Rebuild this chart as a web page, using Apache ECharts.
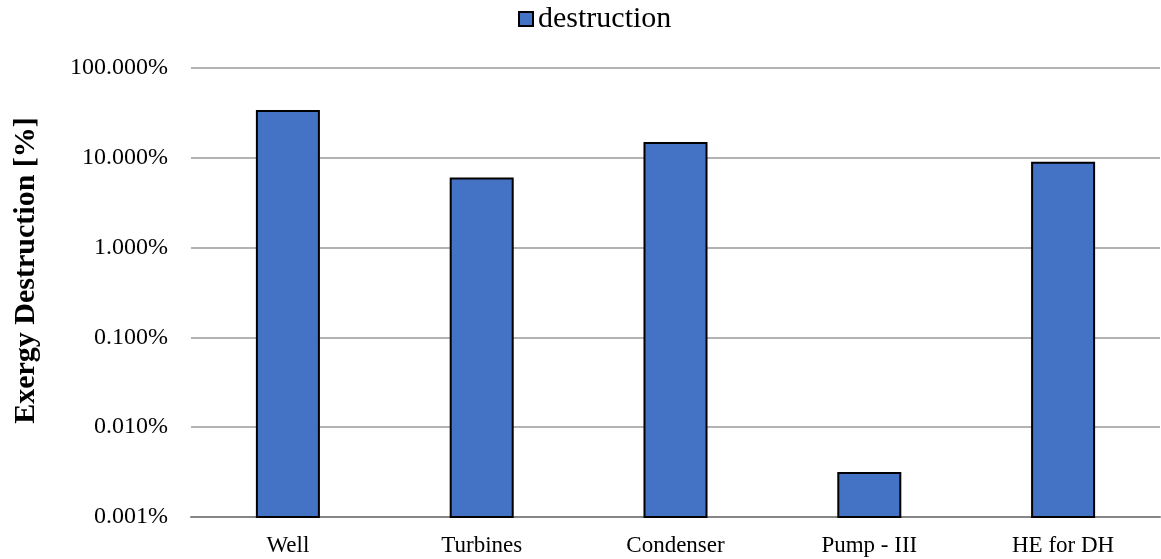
<!DOCTYPE html>
<html>
<head>
<meta charset="utf-8">
<script src="https://cdn.jsdelivr.net/npm/echarts@6/dist/echarts.min.js"></script>
<style>
  html, body { margin: 0; padding: 0; background: #fff; }
  #chart { width: 1161px; height: 559px; }
</style>
</head>
<body>
<div id="chart"></div>
<script>
// Exergy destruction per component, in percent
const categories = ['Well', 'Turbines', 'Condenser', 'Pump - III', 'HE for DH'];
const destruction = [33.2, 5.9, 14.6, 0.0031, 8.8];

const Y_MIN = 0.001;
const Y_MAX = 100;
const BAR_FRACTION = 0.32;

const chart = echarts.init(document.getElementById('chart'), null, { renderer: 'canvas' });
const font = '"Liberation Serif", "Times New Roman", serif';
const barColor = '#4472C4';

// Bars grow from the bottom of the log axis (0.001 %), drawn through the axis scales.
function renderBar(params, api) {
  const idx = api.value(0);
  const top = api.coord([idx, api.value(1)]);
  const base = api.coord([idx, Y_MIN]);
  const width = api.size([1, 0])[0] * BAR_FRACTION;
  return {
    type: 'rect',
    shape: { x: top[0] - width / 2, y: top[1], width: width, height: base[1] - top[1] },
    style: { fill: barColor, stroke: '#000', lineWidth: 2 }
  };
}

chart.setOption({
  animation: false,
  textStyle: { fontFamily: font },
  legend: {
    data: [{
      name: 'destruction',
      icon: 'rect',
      itemStyle: { color: barColor, borderColor: '#000', borderWidth: 2 }
    }],
    left: 513,
    top: -1,
    itemWidth: 14,
    itemHeight: 14,
    itemGap: 6,
    textStyle: { fontFamily: font, fontSize: 30, color: '#000' }
  },
  grid: { left: 191, right: 1, top: 68, bottom: 42, containLabel: false, outerBoundsMode: 'none' },
  xAxis: {
    type: 'category',
    data: categories,
    axisLine: { lineStyle: { color: '#868686', width: 2 } },
    axisTick: { show: false },
    axisLabel: { fontFamily: font, fontSize: 23, color: '#000', margin: 17 }
  },
  yAxis: {
    type: 'log',
    logBase: 10,
    min: Y_MIN,
    max: Y_MAX,
    name: 'Exergy Destruction [%]',
    nameLocation: 'middle',
    nameGap: 150,
    nameTextStyle: {
      fontFamily: font, fontSize: 30, fontWeight: 'bold', color: '#000',
      padding: [0, 0, 0, 44]
    },
    axisLine: { show: false },
    axisTick: { show: false },
    axisLabel: {
      fontFamily: font, fontSize: 24, color: '#000', margin: 23,
      formatter: v => Number(v).toFixed(3) + '%'
    },
    splitLine: { lineStyle: { color: '#b3b3b3', width: 2 } }
  },
  series: [{
    name: 'destruction',
    type: 'custom',
    renderItem: renderBar,
    itemStyle: { color: barColor },
    encode: { x: 0, y: 1 },
    data: destruction.map((v, i) => [i, v])
  }]
});
</script>
</body>
</html>
